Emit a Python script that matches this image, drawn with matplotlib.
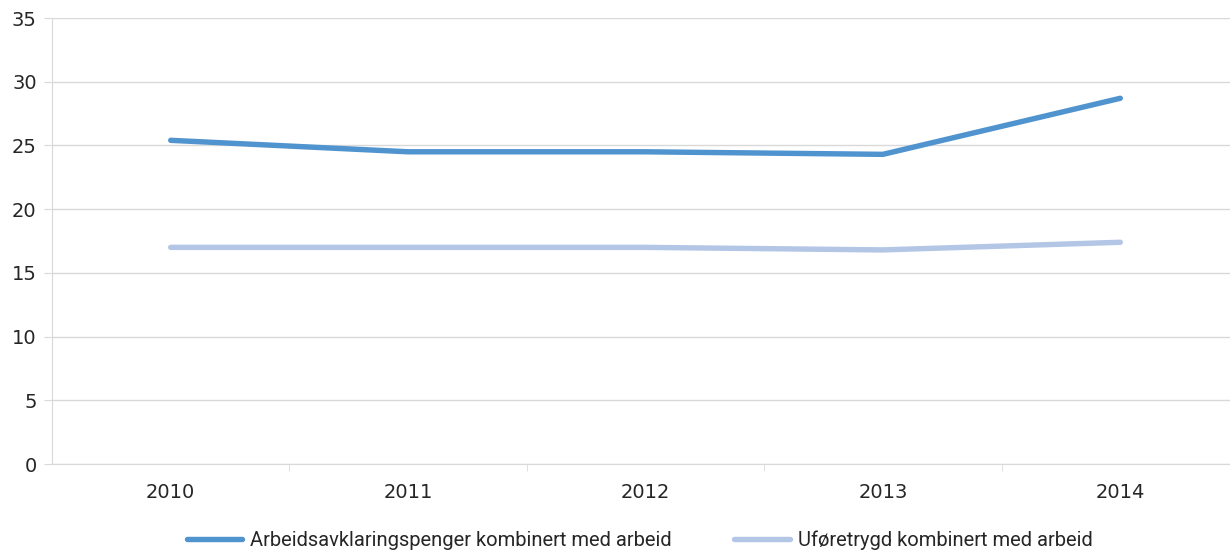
import matplotlib.pyplot as plt
import numpy as np

# Andel med arbeid, per år
years = ['2010', '2011', '2012', '2013', '2014']
aap_arbeid = [25.4, 24.5, 24.5, 24.3, 28.7]
ufore_arbeid = [17.0, 17.0, 17.0, 16.8, 17.4]

c_aap = '#4f93cf'
c_ufore = '#b3c6e6'
grid_c = '#d9d9d9'
text_c = '#262626'

fig = plt.figure(figsize=(12.3, 5.5), dpi=100)
ax = fig.add_axes([52 / 1230, 86 / 550, 1187 / 1230, 446 / 550])

x = np.arange(len(years))
l1, = ax.plot(x, aap_arbeid, color=c_aap, lw=3.9, solid_capstyle='round',
              label='Arbeidsavklaringspenger kombinert med arbeid')
l2, = ax.plot(x, ufore_arbeid, color=c_ufore, lw=3.9, solid_capstyle='round',
              label='Uføretrygd kombinert med arbeid')

ax.set_xlim(-0.5, len(years) - 0.5)
ax.set_ylim(0, 35)
ax.set_yticks(range(0, 36, 5))
ax.set_xticks(x)
ax.set_xticklabels(years)
ax.set_xticks(np.arange(0.5, len(years) - 1, 1), minor=True)

ax.grid(axis='y', color=grid_c, lw=1)
ax.set_axisbelow(True)
for s in ['top', 'right']:
    ax.spines[s].set_visible(False)
ax.spines['left'].set_color(grid_c)
ax.spines['bottom'].set_color(grid_c)
ax.tick_params(axis='y', length=6, color=grid_c, labelsize=14, labelcolor=text_c, pad=5)
ax.tick_params(axis='x', which='major', length=0, labelsize=14, labelcolor=text_c, pad=14)
ax.tick_params(axis='x', which='minor', length=5, color=grid_c)

fig.legend(handles=[l1, l2], loc='center', bbox_to_anchor=(0.52, 0.018),
           ncol=2, frameon=False, handlelength=2.75, handletextpad=0.4,
           columnspacing=3.1,
           prop={'family': ['Roboto', 'DejaVu Sans'], 'size': 14.5},
           labelcolor=text_c)

fig.savefig('out.png', dpi=100)
